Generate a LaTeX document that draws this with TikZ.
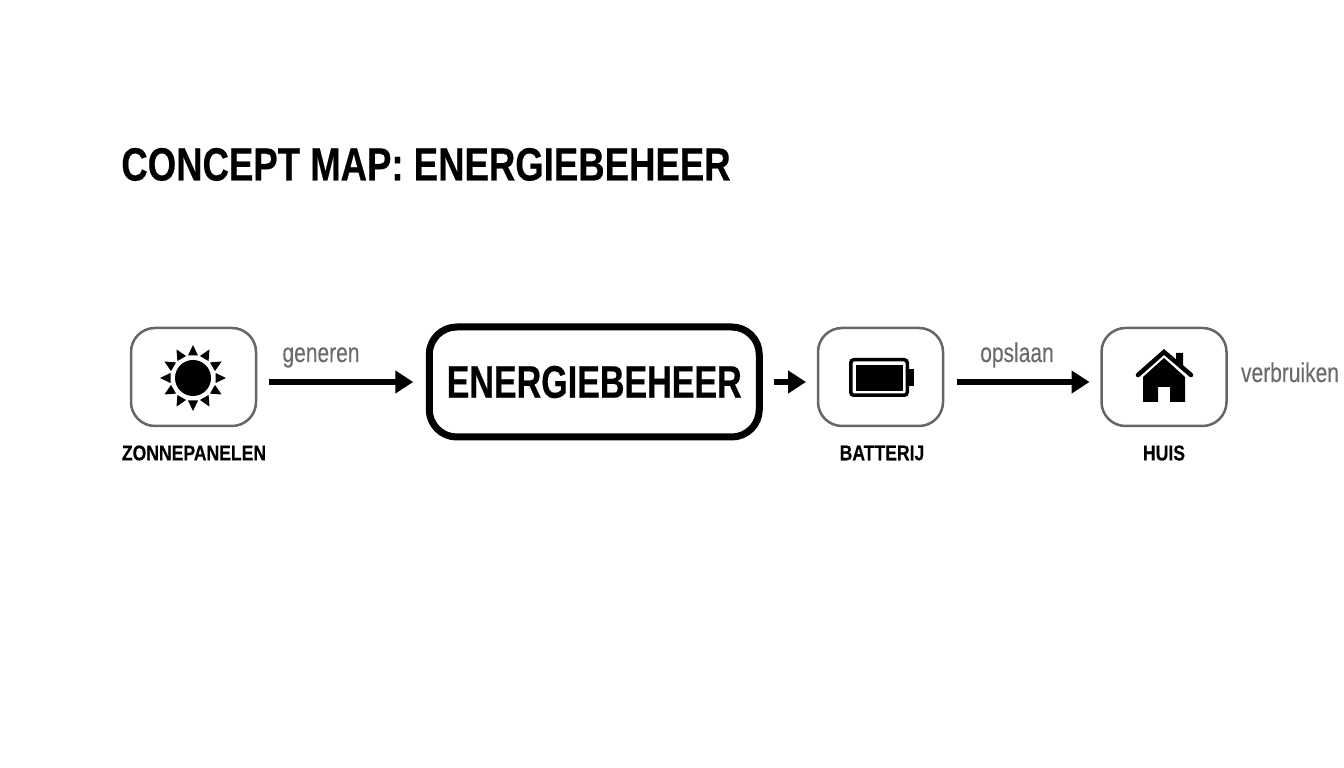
\documentclass[tikz,border=0pt]{standalone}
\usepackage{fontspec}
\setmainfont{Liberation Sans}
\newfontfamily\titlefont[FakeStretch=0.785,FakeBold=0.4]{Liberation Sans Bold}
\newfontfamily\mainfont[FakeStretch=0.745,FakeBold=0.4]{Liberation Sans Bold}
\newfontfamily\labelfont[FakeStretch=0.82,FakeBold=0.25]{Liberation Sans Bold}
\newfontfamily\flowfont[FakeStretch=0.77,FakeBold=0.2]{Liberation Sans}
\usetikzlibrary{arrows.meta}
\tikzset{
	iconbox/.style={draw=black!60, line width=0.05cm, rounded corners=0.48cm, minimum width=2.5cm, minimum height=1.96cm, outer sep=0pt},
	mainbox/.style={draw=black, line width=0.14cm, rounded corners=0.55cm, minimum width=6.6cm, minimum height=2.2cm, outer sep=0pt, font=\mainfont\fontsize{26}{26}\selectfont},
	boxlabel/.style={font=\labelfont\fontsize{12.2}{14}\selectfont},
	flowlabel/.style={anchor=base, text=black!58, font=\flowfont\fontsize{15.5}{17}\selectfont},
	flowarrow/.style={line width=0.11cm, -{Triangle[length=0.36cm,width=0.44cm]}}
}
\begin{document}
\begin{tikzpicture}
			\useasboundingbox (0,0) rectangle (26.88,15.36);
			\node[anchor=base west, inner sep=0pt, font=\titlefont\fontsize{26.5}{30}\selectfont] (title) at (2.42,11.75) {CONCEPT MAP: ENERGIEBEHEER};
			\node[iconbox] (zon) at (3.87,7.82) {};
			\node[mainbox] (beheer) at (11.885,7.72) {ENERGIEBEHEER};
			\node[iconbox] (bat) at (17.61,7.82) {};
			\node[iconbox] (huis) at (23.28,7.82) {};
			\node[boxlabel] (zonlabel) at (3.88,6.3) {ZONNEPANELEN};
			\node[boxlabel] (batlabel) at (17.64,6.3) {BATTERIJ};
			\node[boxlabel] (huislabel) at (23.28,6.3) {HUIS};
			\node[flowlabel] (generen) at (6.42,8.12) {generen};
			\node[flowlabel] (opslaan) at (20.34,8.12) {opslaan};
			\node[flowlabel] (verbruiken) at (25.8,7.72) {verbruiken};
			\draw[flowarrow, shorten <=0.26cm, shorten >=0.32cm] (zon.east |- beheer.west) -- (beheer.west);
			\draw[flowarrow, shorten <=0.29cm, shorten >=0.24cm] (beheer.east) -- (bat.west |- beheer.east);
			\draw[flowarrow, shorten <=0.28cm, shorten >=0.24cm] (bat.east |- beheer.east) -- (huis.west |- beheer.east);
			\begin{scope}[shift={(3.86,7.8)}]
				\fill (0,0) circle (0.36);
				\foreach \a in {0,30,...,330}
					\fill[rotate=\a] (0.45,0.1) -- (0.66,0) -- (0.45,-0.1) -- cycle;
			\end{scope}
			\draw[line width=0.07cm, rounded corners=0.06cm] (17.015,7.455) rectangle (18.145,8.165);
			\fill (17.11,7.54) rectangle (18.05,8.06);
			\fill (18.18,7.64) rectangle (18.28,7.98);
			\begin{scope}[shift={(23.28,7.82)}]
				\draw[line width=0.09cm, line cap=round] (-0.52,0.04) -- (0,0.5) -- (0.54,0.04);
				\fill (-0.42,0) -- (0,0.38) -- (0.42,0) -- (0.42,-0.5) -- (0.12,-0.5) -- (0.12,-0.2) -- (-0.12,-0.2) -- (-0.12,-0.5) -- (-0.42,-0.5) -- cycle;
				\fill (0.24,0.3) -- (0.24,0.48) -- (0.38,0.48) -- (0.38,0.17) -- cycle;
			\end{scope}
	\end{tikzpicture}
\end{document}
